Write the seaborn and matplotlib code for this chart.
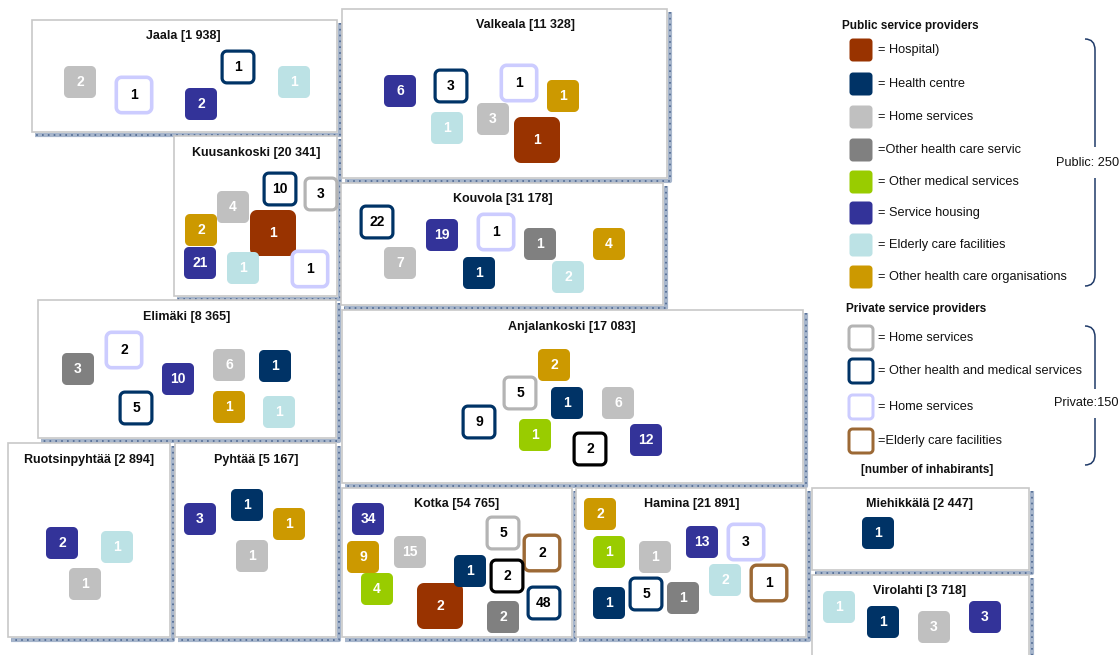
import numpy as np
import pandas as pd
import matplotlib
matplotlib.use("Agg")
import matplotlib.pyplot as plt
from matplotlib.path import Path
from matplotlib.markers import MarkerStyle
from matplotlib.patches import Rectangle, PathPatch
import seaborn as sns

# =========================
# DATA
# =========================
regions = ["Jaala", "Valkeala", "Kuusankoski", "Kouvola", "Elimäki", "Anjalankoski",
           "Ruotsinpyhtää", "Pyhtää", "Kotka", "Hamina", "Miehikkälä", "Virolahti"]
inhabitants = ["1 938", "11 328", "20 341", "31 178", "8 365", "17 083",
               "2 894", "5 167", "54 765", "21 891", "2 447", "3 718"]

public_kinds = ["hosp", "hc", "home", "ohcs", "med", "housing", "elderly", "org"]
public_labels = ["= Hospital)", "= Health centre", "= Home services",
                 "=Other health care services", "= Other medical services",
                 "= Service housing", "= Elderly care facilities",
                 "= Other health care organisations"]
private_kinds = ["p_home", "p_med", "p_home2", "p_elderly"]
private_labels = ["= Home services", "= Other health and medical services",
                  "= Home services", "=Elderly care facilities"]
public_total = 250
private_total = 150

# one entry per tile: region, provider type, count
tile_region = (["Jaala"] * 5 + ["Valkeala"] * 7 + ["Kuusankoski"] * 8 + ["Kouvola"] * 8
               + ["Elimäki"] * 8 + ["Anjalankoski"] * 8 + ["Ruotsinpyhtää"] * 3
               + ["Pyhtää"] * 4 + ["Kotka"] * 11 + ["Hamina"] * 10
               + ["Miehikkälä"] * 1 + ["Virolahti"] * 4)
tile_kind = [
    "home", "p_home2", "p_med", "housing", "elderly",                                   # Jaala
    "housing", "p_med", "p_home2", "org", "elderly", "home", "hosp",                    # Valkeala
    "p_med", "p_home", "home", "org", "hosp", "housing", "elderly", "p_home2",          # Kuusankoski
    "p_med", "housing", "p_home2", "ohcs", "org", "home", "hc", "elderly",              # Kouvola
    "ohcs", "p_home2", "housing", "home", "hc", "p_med", "org", "elderly",              # Elimäki
    "org", "p_home", "hc", "home", "p_med", "med", "p_other", "housing",                # Anjalankoski
    "housing", "elderly", "home",                                                       # Ruotsinpyhtää
    "housing", "hc", "org", "home",                                                     # Pyhtää
    "housing", "org", "home", "med", "hosp", "hc", "p_home", "p_elderly", "p_other",
    "p_med", "ohcs",                                                                    # Kotka
    "org", "med", "home", "housing", "p_home2", "elderly", "p_elderly", "hc", "p_med",
    "ohcs",                                                                             # Hamina
    "hc",                                                                               # Miehikkälä
    "elderly", "hc", "home", "housing",                                                 # Virolahti
]
tile_count = [
    2, 1, 1, 2, 1,
    6, 3, 1, 1, 1, 3, 1,
    10, 3, 4, 2, 1, 21, 1, 1,
    22, 19, 1, 1, 4, 7, 1, 2,
    3, 2, 10, 6, 1, 5, 1, 1,
    2, 5, 1, 6, 9, 1, 2, 12,
    2, 1, 1,
    3, 1, 1, 1,
    34, 9, 15, 4, 2, 1, 5, 2, 2, 48, 2,
    2, 1, 1, 13, 3, 2, 1, 1, 5, 1,
    1,
    1, 1, 3, 3,
]

# =========================
# LAYOUT (pixels)
# =========================
panel_box = {
    "Jaala": (32, 20, 337, 132), "Valkeala": (342, 9, 667, 178),
    "Kuusankoski": (174, 136, 337, 296), "Kouvola": (341, 183, 663, 305),
    "Elimäki": (38, 300, 336, 438), "Anjalankoski": (342, 310, 803, 483),
    "Ruotsinpyhtää": (8, 443, 170, 637), "Pyhtää": (175, 443, 336, 637),
    "Kotka": (342, 488, 572, 637), "Hamina": (576, 488, 806, 637),
    "Miehikkälä": (812, 488, 1029, 570), "Virolahti": (812, 575, 1029, 662),
}
title_pos = {
    "Jaala": (183, 36), "Valkeala": (525, 25), "Kuusankoski": (256, 153),
    "Kouvola": (503, 199), "Elimäki": (187, 317), "Anjalankoski": (572, 327),
    "Ruotsinpyhtää": (89, 460), "Pyhtää": (256, 460), "Kotka": (457, 504),
    "Hamina": (692, 504), "Miehikkälä": (920, 504), "Virolahti": (920, 591),
}
tile_x = [80, 134, 238, 201, 294,
          400, 451, 519, 563, 447, 493, 537,
          280, 321, 233, 201, 273, 200, 243, 310,
          377, 442, 496, 540, 609, 400, 479, 568,
          78, 124, 178, 229, 275, 136, 229, 279,
          554, 520, 567, 618, 479, 535, 590, 646,
          62, 117, 85,
          200, 247, 289, 252,
          368, 363, 410, 377, 440, 470, 503, 542, 507, 544, 503,
          600, 609, 655, 702, 746, 725, 769, 609, 646, 683,
          878,
          839, 883, 934, 985]
tile_y = [82, 95, 67, 104, 82,
          91, 86, 83, 96, 128, 119, 140,
          189, 194, 207, 230, 233, 263, 268, 269,
          222, 235, 232, 244, 244, 263, 273, 277,
          369, 350, 379, 365, 366, 408, 407, 412,
          365, 393, 403, 403, 422, 435, 449, 440,
          543, 547, 584,
          519, 505, 524, 556,
          519, 557, 552, 589, 606, 571, 533, 553, 576, 603, 617,
          514, 552, 557, 542, 542, 580, 583, 603, 594, 598,
          533,
          607, 622, 627, 617]

kind_colors = {
    "hosp": "#993300", "hc": "#003366", "home": "#C0C0C0", "ohcs": "#808080",
    "med": "#99CC00", "housing": "#333399", "elderly": "#BCE2E5", "org": "#CC9900",
    "p_home": "#B4B4B4", "p_med": "#003366", "p_home2": "#CCCCFF",
    "p_elderly": "#9C6935", "p_other": "#000000",
}
outline_kinds = ["p_home", "p_med", "p_home2", "p_elderly", "p_other"]
# outer size and stroke of tiles, in pixels
tile_px = {"hosp": 46}
outline_px = {"p_home": 35, "p_med": 35, "p_home2": 39, "p_elderly": 39, "p_other": 35}
stroke_px = {"p_home": 3.2, "p_med": 3.2, "p_home2": 3.6, "p_elderly": 3.4, "p_other": 3.2}

PT = 0.72  # points per pixel at dpi 100

sns.set_style("white")
plt.rcParams["font.family"] = ["Liberation Sans Narrow", "Liberation Sans", "DejaVu Sans"]


def rounded_square(r=0.15, n=10):
    c = 0.5 - r
    verts = []
    for cx, cy, a0 in [(c, c, 0), (-c, c, 90), (-c, -c, 180), (c, -c, 270)]:
        for t in np.radians(np.linspace(a0, a0 + 90, n)):
            verts.append((cx + r * np.cos(t), cy + r * np.sin(t)))
    verts.append(verts[0])
    return Path(verts, closed=True)


tile_marker = MarkerStyle(rounded_square())

tiles = pd.DataFrame({"region": tile_region, "kind": tile_kind, "count": tile_count,
                      "x": tile_x, "y": tile_y})
tiles["outline"] = tiles["kind"].isin(outline_kinds)

fig = plt.figure(figsize=(11.19, 6.55), dpi=100)
ax = fig.add_axes([0, 0, 1, 1])

# =========================
# PANELS
# =========================
for reg, pop in zip(regions, inhabitants):
    x0, y0, x1, y1 = panel_box[reg]
    ax.plot([x1 + 3, x1 + 3, x0 + 3], [y0 + 3, y1 + 3, y1 + 3], color="#a7b6cc", lw=3,
            solid_capstyle="butt", zorder=1)
    ax.plot([x1 + 3, x1 + 3, x0 + 3], [y0 + 3, y1 + 3, y1 + 3], color="#4d6790", lw=1.2,
            dashes=(1, 2.5), zorder=1)
    ax.add_patch(Rectangle((x0, y0), x1 - x0, y1 - y0, facecolor="white",
                           edgecolor="#c8c8c8", lw=1.2, zorder=2))
    tx, ty = title_pos[reg]
    ax.text(tx, ty, f"{reg} [{pop}]", ha="center", va="center", fontsize=9,
            fontweight="bold", color="#111111", zorder=5)

# =========================
# TILES
# =========================
filled = tiles[~tiles["outline"]]
fill_sizes = {k: (tile_px.get(k, 32) * PT) ** 2 for k in filled["kind"].unique()}
sns.scatterplot(data=filled, x="x", y="y", hue="kind", palette=kind_colors,
                size="kind", sizes=fill_sizes, marker=tile_marker, linewidth=0,
                legend=False, ax=ax, zorder=3)

outl = tiles[tiles["outline"]]
out_sizes = {k: ((outline_px[k] - stroke_px[k]) * PT) ** 2 for k in outl["kind"].unique()}
sns.scatterplot(data=outl, x="x", y="y", hue="kind", palette=kind_colors,
                size="kind", sizes=out_sizes, marker=tile_marker, linewidth=2,
                legend=False, ax=ax, zorder=4)
coll = ax.collections[-1]
coll.set_facecolor("white")
coll.set_edgecolor([kind_colors[k] for k in outl["kind"]])
coll.set_linewidth([stroke_px[k] * PT for k in outl["kind"]])

for _, row in tiles.iterrows():
    ax.text(row["x"], row["y"], str(row["count"]), ha="center", va="center",
            fontsize=10, fontweight="bold",
            color="black" if row["outline"] else "white", zorder=6)

# =========================
# LEGEND
# =========================
ax.text(842, 26, "Public service providers", ha="left", va="center", fontsize=8.5,
        fontweight="bold", color="#111111")
pub_y = [50, 84, 117, 150, 182, 213, 245, 277]
ax.scatter([861] * len(pub_y), pub_y, s=(23 * PT) ** 2, marker=tile_marker,
           c=[kind_colors[k] for k in public_kinds], linewidths=0, zorder=3)
for yy, lab in zip(pub_y, public_labels):
    ax.text(878, yy, lab, ha="left", va="center", fontsize=9.2, color="#111111", zorder=3)
# the reference cuts this legend line off at the right
ax.add_patch(Rectangle((1021, 141), 30, 18, facecolor="white", edgecolor="none", zorder=4))

ax.text(846, 309, "Private service providers", ha="left", va="center", fontsize=8.5,
        fontweight="bold", color="#111111")
priv_y = [338, 371, 407, 441]
ax.scatter([861] * len(priv_y), priv_y, s=(24 * PT) ** 2, marker=tile_marker,
           facecolors="white", edgecolors=[kind_colors[k] for k in private_kinds],
           linewidths=3 * PT, zorder=3)
for yy, lab in zip(priv_y, private_labels):
    ax.text(878, yy, lab, ha="left", va="center", fontsize=9.2, color="#111111")
ax.text(861, 470, "[number of inhabirants]", ha="left", va="center", fontsize=8.5,
        fontweight="bold", color="#111111")


def brace(top, bottom, gap0, gap1):
    x0, x1 = 1085, 1095
    segs = [
        ([(x0, top), (x1, top), (x1, top + 11), (x1, gap0)],
         [Path.MOVETO, Path.CURVE3, Path.CURVE3, Path.LINETO]),
        ([(x1, gap1), (x1, bottom - 11), (x1, bottom), (x0, bottom)],
         [Path.MOVETO, Path.LINETO, Path.CURVE3, Path.CURVE3]),
    ]
    for verts, codes in segs:
        ax.add_patch(PathPatch(Path(verts, codes), facecolor="none",
                               edgecolor="#1f3a68", lw=1.1))


brace(39, 286, 147, 178)
ax.text(1056, 163, f"Public: {public_total}", ha="left", va="center", fontsize=9.2,
        color="#111111")
brace(326, 465, 389, 418)
ax.text(1054, 403, f"Private:{private_total}", ha="left", va="center", fontsize=9.2,
        color="#111111")

ax.set_xlim(0, 1119)
ax.set_ylim(655, 0)
ax.axis("off")

fig.savefig("out.png", dpi=100)
print("saved out.png")
